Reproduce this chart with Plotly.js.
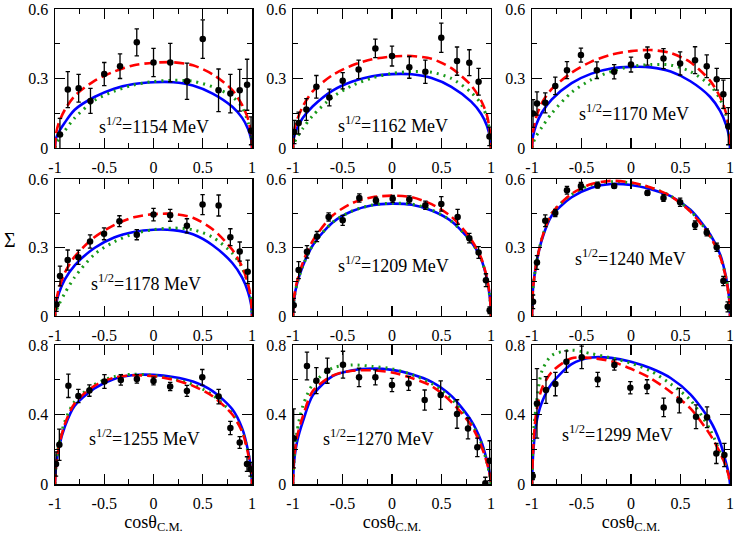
<!DOCTYPE html>
<html>
<head>
<meta charset="utf-8">
<script src="https://cdn.plot.ly/plotly-3.0.1.min.js"></script>
<style>html,body{margin:0;padding:0;background:#fff;}#chart{width:736px;height:535px;}</style>
</head>
<body>
<div id="chart"></div>
<script>
// ---- energies (panel labels, MeV) ----
const energies = ['1154', '1162', '1170', '1178', '1209', '1240', '1255', '1270', '1299'];

// ---- cos(theta) grid on which the three model curves are read ----
const modelCos = [-1, -0.99, -0.96, -0.9, -0.8, -0.6, -0.4, -0.2, 0, 0.2, 0.4, 0.6, 0.8, 0.9, 0.96, 0.99, 1];

// ---- 1154 MeV ----
const data1154X = [-0.95, -0.87, -0.76, -0.64, -0.5, -0.34, -0.17, 0, 0.17, 0.34, 0.5, 0.66, 0.78, 0.875, 0.95, 0.99];
const data1154Y = [0.058, 0.252, 0.258, 0.203, 0.319, 0.353, 0.456, 0.369, 0.369, 0.288, 0.470, 0.249, 0.235, 0.249, 0.273, 0.074];
const data1154E = [0.07, 0.078, 0.06, 0.054, 0.05, 0.053, 0.058, 0.061, 0.083, 0.078, 0.083, 0.092, 0.083, 0.09, 0.11, 0.06];
const blue1154  = [0, 0.04, 0.07, 0.11, 0.165, 0.22, 0.256, 0.276, 0.284, 0.284, 0.27, 0.235, 0.178, 0.13, 0.082, 0.04, 0];
const red1154   = [0, 0.06, 0.11, 0.165, 0.225, 0.29, 0.33, 0.357, 0.368, 0.37, 0.357, 0.318, 0.25, 0.185, 0.125, 0.06, 0];
const green1154 = [0, 0.015, 0.04, 0.075, 0.13, 0.205, 0.245, 0.272, 0.287, 0.292, 0.288, 0.264, 0.222, 0.175, 0.11, 0.05, 0];

// ---- 1162 MeV ----
const data1162X = [-0.987, -0.943, -0.865, -0.764, -0.633, -0.498, -0.337, -0.168, 0, 0.175, 0.337, 0.498, 0.657, 0.781, 0.875, 0.985];
const data1162Y = [0.069, 0.108, 0.166, 0.264, 0.218, 0.29, 0.339, 0.43, 0.397, 0.348, 0.329, 0.476, 0.375, 0.368, 0.286, 0.05];
const data1162E = [0.05, 0.047, 0.047, 0.049, 0.036, 0.035, 0.04, 0.04, 0.043, 0.047, 0.05, 0.063, 0.061, 0.056, 0.058, 0.04];
const blue1162  = [0, 0.045, 0.085, 0.13, 0.18, 0.248, 0.287, 0.31, 0.319, 0.318, 0.302, 0.264, 0.2, 0.148, 0.095, 0.045, 0];
const red1162   = [0, 0.07, 0.12, 0.18, 0.245, 0.315, 0.357, 0.383, 0.395, 0.397, 0.385, 0.345, 0.27, 0.205, 0.14, 0.065, 0];
const green1162 = [0, 0.02, 0.045, 0.085, 0.14, 0.22, 0.27, 0.302, 0.322, 0.33, 0.327, 0.3, 0.24, 0.19, 0.13, 0.06, 0];

// ---- 1170 MeV ----
const data1170X = [-0.99, -0.95, -0.866, -0.765, -0.647, -0.506, -0.345, -0.17, 0, 0.166, 0.328, 0.496, 0.647, 0.765, 0.866, 0.933, 0.983];
const data1170Y = [0.149, 0.192, 0.195, 0.268, 0.336, 0.401, 0.336, 0.329, 0.36, 0.397, 0.386, 0.365, 0.379, 0.353, 0.297, 0.232, 0.094];
const data1170E = [0.06, 0.05, 0.043, 0.038, 0.037, 0.03, 0.036, 0.031, 0.032, 0.039, 0.043, 0.05, 0.058, 0.049, 0.047, 0.061, 0.08];
const blue1170  = [0, 0.049, 0.098, 0.153, 0.21, 0.28, 0.321, 0.343, 0.35, 0.348, 0.33, 0.288, 0.22, 0.16, 0.1, 0.05, 0];
const red1170   = [0, 0.07, 0.13, 0.195, 0.255, 0.325, 0.373, 0.403, 0.418, 0.423, 0.41, 0.37, 0.29, 0.22, 0.15, 0.075, 0];
const green1170 = [0, 0.02, 0.05, 0.09, 0.15, 0.24, 0.295, 0.33, 0.352, 0.36, 0.358, 0.33, 0.27, 0.21, 0.14, 0.07, 0];

// ---- 1178 MeV ----
const data1178X = [-0.985, -0.949, -0.871, -0.763, -0.644, -0.502, -0.346, -0.17, 0, 0.169, 0.339, 0.498, 0.661, 0.78, 0.875, 0.956];
const data1178Y = [0.05, 0.175, 0.245, 0.257, 0.326, 0.36, 0.415, 0.356, 0.444, 0.441, 0.395, 0.488, 0.484, 0.345, 0.282, 0.194];
const data1178E = [0.03, 0.043, 0.044, 0.031, 0.029, 0.026, 0.024, 0.022, 0.027, 0.026, 0.031, 0.044, 0.046, 0.037, 0.042, 0.051];
const blue1178  = [0, 0.05, 0.1, 0.16, 0.222, 0.298, 0.344, 0.368, 0.378, 0.376, 0.358, 0.31, 0.232, 0.168, 0.105, 0.052, 0];
const red1178   = [0, 0.06, 0.12, 0.19, 0.26, 0.345, 0.398, 0.432, 0.446, 0.447, 0.43, 0.38, 0.29, 0.215, 0.14, 0.07, 0];
const green1178 = [0, 0.02, 0.05, 0.1, 0.17, 0.27, 0.325, 0.36, 0.378, 0.385, 0.378, 0.345, 0.275, 0.21, 0.14, 0.07, 0];

// ---- 1209 MeV ----
const data1209X = [-0.993, -0.943, -0.859, -0.758, -0.64, -0.498, -0.33, -0.162, 0.007, 0.175, 0.337, 0.498, 0.663, 0.781, 0.875, 0.949, 0.987];
const data1209Y = [0.047, 0.201, 0.281, 0.348, 0.434, 0.419, 0.517, 0.506, 0.513, 0.51, 0.485, 0.491, 0.434, 0.341, 0.278, 0.157, 0.025];
const data1209E = [0.03, 0.037, 0.027, 0.022, 0.018, 0.022, 0.018, 0.015, 0.015, 0.016, 0.018, 0.032, 0.033, 0.021, 0.026, 0.028, 0.015];
const blue1209  = [0, 0.07, 0.14, 0.22, 0.31, 0.41, 0.46, 0.485, 0.492, 0.487, 0.462, 0.415, 0.325, 0.25, 0.16, 0.075, 0];
const red1209   = [0, 0.08, 0.15, 0.235, 0.33, 0.44, 0.495, 0.52, 0.527, 0.52, 0.49, 0.435, 0.335, 0.255, 0.165, 0.08, 0];
const green1209 = [0, 0.07, 0.14, 0.22, 0.31, 0.41, 0.46, 0.486, 0.494, 0.49, 0.465, 0.415, 0.325, 0.25, 0.16, 0.075, 0];

// ---- 1240 MeV ----
const data1240X = [-0.99, -0.95, -0.866, -0.765, -0.647, -0.506, -0.338, -0.17, 0.166, 0.328, 0.496, 0.647, 0.765, 0.866, 0.933, 0.977];
const data1240Y = [0.062, 0.234, 0.417, 0.451, 0.551, 0.569, 0.573, 0.569, 0.539, 0.517, 0.498, 0.398, 0.366, 0.301, 0.153, 0.04];
const data1240E = [0.03, 0.03, 0.026, 0.016, 0.017, 0.016, 0.013, 0.01, 0.011, 0.015, 0.018, 0.018, 0.015, 0.018, 0.02, 0.022];
const blue1240  = [0, 0.12, 0.22, 0.335, 0.44, 0.52, 0.562, 0.578, 0.574, 0.555, 0.525, 0.465, 0.357, 0.27, 0.17, 0.085, 0];
const red1240   = [0, 0.12, 0.22, 0.34, 0.45, 0.535, 0.578, 0.592, 0.585, 0.563, 0.525, 0.457, 0.347, 0.26, 0.165, 0.08, 0];
const green1240 = [0, 0.12, 0.22, 0.34, 0.45, 0.532, 0.575, 0.588, 0.583, 0.562, 0.526, 0.46, 0.35, 0.263, 0.167, 0.082, 0];

// ---- 1255 MeV ----
const data1255X = [-0.99, -0.956, -0.864, -0.763, -0.651, -0.498, -0.332, -0.169, 0, 0.169, 0.339, 0.495, 0.661, 0.78, 0.875, 0.949, 0.985];
const data1255Y = [0.115, 0.226, 0.565, 0.507, 0.538, 0.59, 0.599, 0.605, 0.593, 0.561, 0.536, 0.614, 0.503, 0.322, 0.239, 0.115, 0.085];
const data1255E = [0.07, 0.09, 0.067, 0.038, 0.033, 0.04, 0.03, 0.024, 0.022, 0.024, 0.032, 0.045, 0.042, 0.038, 0.034, 0.042, 0.04];
const blue1255  = [0, 0.1, 0.21, 0.33, 0.45, 0.55, 0.605, 0.627, 0.628, 0.616, 0.59, 0.535, 0.43, 0.32, 0.19, 0.08, 0];
const red1255   = [0, 0.1, 0.215, 0.345, 0.465, 0.565, 0.612, 0.626, 0.62, 0.6, 0.565, 0.505, 0.4, 0.3, 0.175, 0.075, 0];
const green1255 = [0, 0.11, 0.23, 0.36, 0.475, 0.572, 0.618, 0.632, 0.625, 0.605, 0.572, 0.512, 0.405, 0.305, 0.18, 0.078, 0];

// ---- 1270 MeV ----
const data1270X = [-0.993, -0.859, -0.764, -0.653, -0.495, -0.333, -0.168, 0, 0.168, 0.33, 0.492, 0.657, 0.768, 0.862, 0.943, 0.987];
const data1270Y = [0.263, 0.679, 0.595, 0.652, 0.687, 0.614, 0.614, 0.57, 0.579, 0.483, 0.512, 0.403, 0.32, 0.211, 0.004, 0.134];
const data1270E = [0.17, 0.08, 0.075, 0.072, 0.077, 0.053, 0.043, 0.038, 0.04, 0.058, 0.082, 0.082, 0.06, 0.053, 0.035, 0.115];
const blue1270  = [0, 0.12, 0.24, 0.36, 0.51, 0.621, 0.655, 0.665, 0.657, 0.632, 0.588, 0.507, 0.365, 0.248, 0.133, 0.05, 0];
const red1270   = [0, 0.14, 0.27, 0.39, 0.535, 0.624, 0.652, 0.654, 0.642, 0.61, 0.564, 0.472, 0.338, 0.222, 0.12, 0.045, 0];
const green1270 = [0, 0.13, 0.3, 0.45, 0.575, 0.668, 0.685, 0.677, 0.663, 0.63, 0.578, 0.49, 0.35, 0.238, 0.12, 0.045, 0];

// ---- 1299 MeV ----
const data1299X = [-0.993, -0.95, -0.859, -0.764, -0.653, -0.498, -0.337, -0.168, -0.007, 0.162, 0.33, 0.488, 0.657, 0.768, 0.862, 0.943];
const data1299Y = [0.046, 0.464, 0.541, 0.575, 0.704, 0.729, 0.602, 0.685, 0.554, 0.56, 0.441, 0.48, 0.387, 0.384, 0.176, 0.167];
const data1299E = [0.02, 0.2, 0.077, 0.067, 0.062, 0.065, 0.041, 0.029, 0.035, 0.04, 0.053, 0.07, 0.068, 0.06, 0.058, 0.067];
const blue1299  = [0, 0.16, 0.34, 0.47, 0.578, 0.69, 0.728, 0.726, 0.704, 0.666, 0.61, 0.516, 0.364, 0.24, 0.122, 0.05, 0];
const red1299   = [0, 0.18, 0.4, 0.55, 0.645, 0.724, 0.725, 0.706, 0.663, 0.608, 0.53, 0.435, 0.283, 0.179, 0.1, 0.04, 0];
const green1299 = [0, 0.25, 0.44, 0.65, 0.74, 0.77, 0.75, 0.726, 0.695, 0.65, 0.576, 0.483, 0.312, 0.182, 0.105, 0.04, 0];

// ---- tick labels ----
const yTicksTopRows = [0, 0.3, 0.6];
const yTicksBottomRow = [0, 0.4, 0.8];
const xTicks = [-1, -0.5, 0, 0.5, 1];

// ---------- assembly ----------
const sets = [
  [data1154X, data1154Y, data1154E, blue1154, red1154, green1154],
  [data1162X, data1162Y, data1162E, blue1162, red1162, green1162],
  [data1170X, data1170Y, data1170E, blue1170, red1170, green1170],
  [data1178X, data1178Y, data1178E, blue1178, red1178, green1178],
  [data1209X, data1209Y, data1209E, blue1209, red1209, green1209],
  [data1240X, data1240Y, data1240E, blue1240, red1240, green1240],
  [data1255X, data1255Y, data1255E, blue1255, red1255, green1255],
  [data1270X, data1270Y, data1270E, blue1270, red1270, green1270],
  [data1299X, data1299Y, data1299E, blue1299, red1299, green1299]
];

const xDomains = [[0, 0.2919], [0.3526, 0.6459], [0.7067, 1]];
const yDomains = [[0.7074, 1], [0.3537, 0.6421], [0, 0.2926]];
// label placement inside each panel (data coords)
const labelPlace = [
  [0.005, 0.098], [0.01, 0.103], [0.03, 0.154],
  [-0.076, 0.145], [0.02, 0.225], [-0.01, 0.255],
  [-0.096, 0.27], [-0.14, 0.27], [-0.14, 0.293]
];

const serif = 'Liberation Serif, Times New Roman, serif';
const traces = [];
const layout = {
  width: 736, height: 535,
  margin: {l: 55, r: 6, t: 9, b: 51},
  paper_bgcolor: '#fff', plot_bgcolor: '#fff',
  showlegend: false,
  annotations: []
};

sets.forEach((s, i) => {
  const row = Math.floor(i / 3), col = i % 3;
  const suf = i === 0 ? '' : String(i + 1);
  const xr = 'x' + suf, yr = 'y' + suf;
  const yt = row === 2 ? yTicksBottomRow : yTicksTopRows;
  const ymax = yt[yt.length - 1];
  const ystep = yt[1];

  const common = {mode: 'lines', xaxis: xr, yaxis: yr, hoverinfo: 'skip'};
  traces.push(Object.assign({x: modelCos, y: s[3], line: {color: '#0000ff', width: 2.6, shape: 'spline', smoothing: 0.8}}, common));
  traces.push(Object.assign({x: modelCos, y: s[5], line: {color: '#1a9a1a', width: 3, dash: '2px,5px', shape: 'spline', smoothing: 0.8}}, common));
  traces.push(Object.assign({x: modelCos, y: s[4], line: {color: '#ff0000', width: 2.6, dash: '10px,5px', shape: 'spline', smoothing: 0.8}}, common));
  traces.push({
    x: s[0], y: s[1], mode: 'markers', xaxis: xr, yaxis: yr, hoverinfo: 'skip',
    marker: {color: '#000', size: 6.5},
    error_y: {type: 'data', array: s[2], visible: true, color: '#000', thickness: 1.3, width: 2.2}
  });

  const xa = {
    domain: xDomains[col], anchor: yr, range: [-1, 1],
    tickmode: 'array', tickvals: xTicks, ticktext: xTicks.map(String),
    ticks: 'inside', ticklen: 10, tickwidth: 1.2, tickcolor: '#000',
    mirror: 'allticks', showline: true, linecolor: '#000', linewidth: 1.5,
    zeroline: false, showgrid: false,
    minor: {tickvals: [-0.75, -0.25, 0.25, 0.75], ticks: 'inside', ticklen: 5, tickwidth: 1.2, tickcolor: '#000', showgrid: false},
    tickfont: {family: serif, size: 16, color: '#000'},
    ticklabelstandoff: 4
  };
  if (row === 2) {
    xa.title = {text: 'cosθ<sub>C.M.</sub>', font: {family: serif, size: 18, color: '#000'}, standoff: 1};
  }
  layout['xaxis' + suf] = xa;
  layout['yaxis' + suf] = {
    domain: yDomains[row], anchor: xr, range: [0, ymax],
    tickmode: 'array', tickvals: yt, ticktext: yt.map(String),
    ticks: 'inside', ticklen: 10, tickwidth: 1.2, tickcolor: '#000',
    mirror: 'allticks', showline: true, linecolor: '#000', linewidth: 1.5,
    zeroline: false, showgrid: false,
    minor: {tickvals: [ystep / 2, ystep * 1.5], ticks: 'inside', ticklen: 5, tickwidth: 1.2, tickcolor: '#000', showgrid: false},
    tickfont: {family: serif, size: 16, color: '#000'},
    ticklabelstandoff: 2
  };
  layout.annotations.push({
    xref: xr, yref: yr, x: labelPlace[i][0], y: labelPlace[i][1],
    text: 's<sup>1/2</sup>=' + energies[i] + ' MeV', showarrow: false,
    font: {family: serif, size: 18, color: '#000'}, xanchor: 'center', yanchor: 'middle'
  });
});

layout.annotations.push({
  xref: 'paper', yref: 'paper', x: -0.067, y: 0.514, text: 'Σ', showarrow: false,
  font: {family: serif, size: 20, color: '#000'}, xanchor: 'center', yanchor: 'middle'
});

Plotly.newPlot('chart', traces, layout, {staticPlot: true, displayModeBar: false});
</script>
</body>
</html>
